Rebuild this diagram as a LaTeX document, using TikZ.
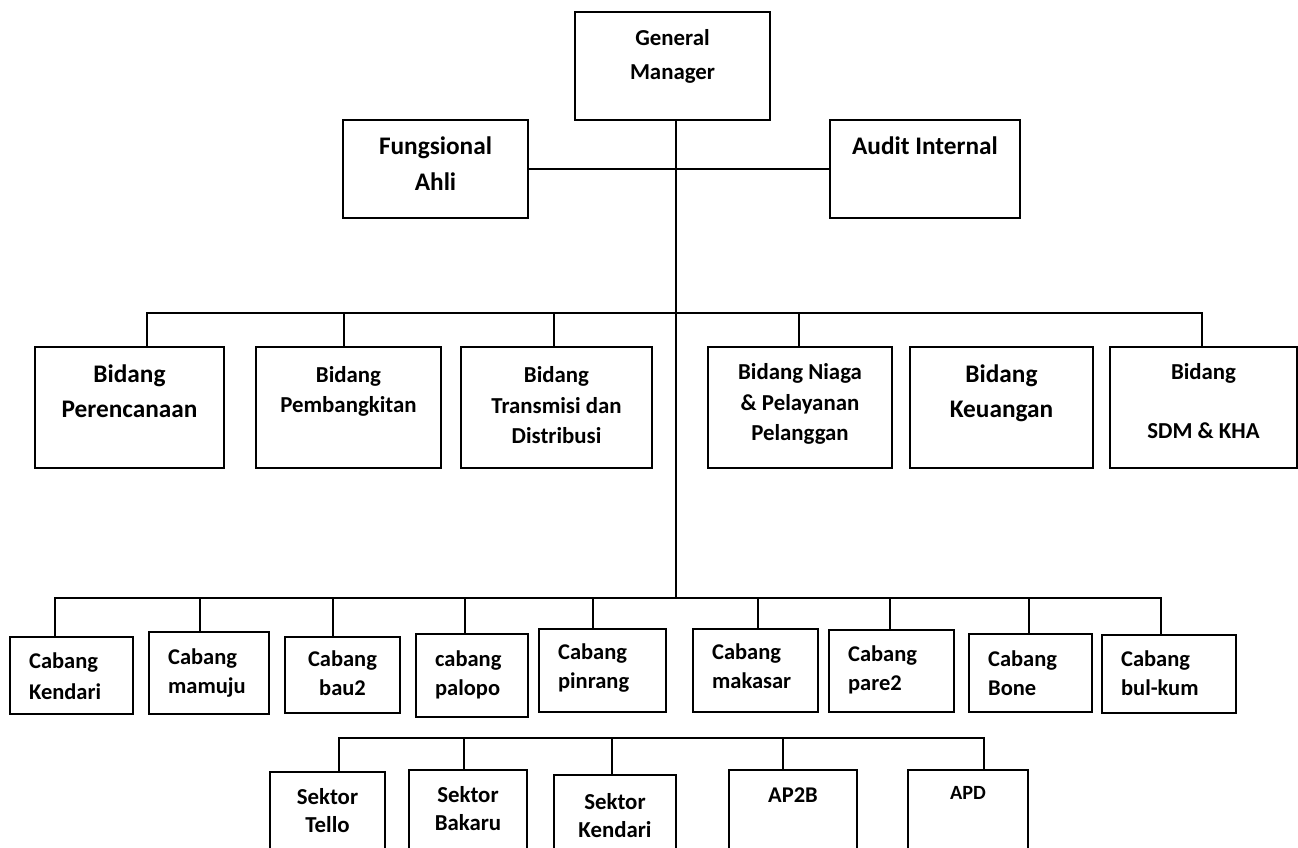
\documentclass[tikz,border=0pt]{standalone}
\usepackage{fontspec}
\setmainfont{Carlito}
\usetikzlibrary{positioning}
\tikzset{
  box/.style 2 args={draw, line width=1.4pt, minimum width=#1*0.02cm, minimum height=#2*0.02cm, inner sep=0pt},
  txt/.style 2 args={font=\bfseries\fontsize{#1}{#2}\selectfont, align=center, inner sep=0pt},
  dn/.style={anchor=north, yshift=-#1*0.02cm},
  dnl/.style={anchor=north west, xshift=20*0.02cm, yshift=-#1*0.02cm, align=left},
  link/.style={line width=1.1pt},
}
\begin{document}
\begin{tikzpicture}[x=0.02cm, y=-0.02cm]
  \clip (0,0) rectangle (1298,848);
  % top level
  \node[box={195}{108}, label={[txt={13}{19.3}, dn=18]north:{General\\Manager}}] (gm) at (672.5,66) {};
  \node[box={185}{98}, label={[txt={14.4}{20.4}, dn=18]north:{Fungsional\\Ahli}}] (fa) at (435.5,169) {};
  \node[box={190}{98}, label={[txt={14.4}{20.4}, dn=18]north:{Audit Internal}}] (ai) at (925,169) {};
  % bidang
  \node[box={189}{121}, label={[txt={14.4}{19.8}, dn=19]north:{Bidang\\Perencanaan}}] (bpr) at (129.5,407.5) {};
  \node[box={185}{121}, label={[txt={13}{17}, dn=20]north:{Bidang\\Pembangkitan}}] (bpe) at (348.5,407.5) {};
  \node[box={191}{121}, label={[txt={13}{17.6}, dn=20]north:{Bidang\\Transmisi dan\\Distribusi}}] (btd) at (556.5,407.5) {};
  \node[box={184}{121}, label={[txt={13}{17.6}, dn=17]north:{Bidang Niaga\\\& Pelayanan\\Pelanggan}}] (bnp) at (800,407.5) {};
  \node[box={183}{121}, label={[txt={14.4}{19.8}, dn=19]north:{Bidang\\Keuangan}}] (bku) at (1001.5,407.5) {};
  \node[box={187}{121}, label={[txt={13}{17.6}, dn=17]north:{Bidang\\[16pt]SDM \& KHA}}] (bsd) at (1203.5,407.5) {};
  % cabang
  \node[box={123}{77}, label={[txt={12.8}{17.5}, dnl=17]north west:{Cabang\\Kendari}}] (ck) at (71.5,675.5) {};
  \node[box={120}{82}, label={[txt={12.8}{16.5}, dnl=18]north west:{Cabang\\mamuju}}] (cm) at (209,673) {};
  \node[box={115}{76}, label={[txt={12.8}{16.5}, dn=15]north:{Cabang\\bau2}}] (cb) at (342.5,675) {};
  \node[box={112}{83}, label={[txt={12.8}{16}, dnl=18]north west:{cabang\\palopo}}] (cp) at (472,675.5) {};
  \node[box={127}{83}, label={[txt={12.8}{16.5}, dnl=16]north west:{Cabang\\pinrang}}] (cpi) at (602.5,670.5) {};
  \node[box={125}{83}, label={[txt={12.8}{16.5}, dnl=16]north west:{Cabang\\makasar}}] (cma) at (755.5,670.5) {};
  \node[box={125}{82}, label={[txt={12.8}{16}, dnl=17]north west:{Cabang\\pare2}}] (cpa) at (891.5,671) {};
  \node[box={123}{78}, label={[txt={12.8}{16}, dnl=18]north west:{Cabang\\Bone}}] (cbo) at (1030.5,673) {};
  \node[box={134}{78}, label={[txt={12.8}{16}, dnl=17]north west:{Cabang\\bul-kum}}] (cbk) at (1169,674) {};
  % sektor
  \node[box={115}{108}, label={[txt={13}{15.9}, dn=17]north:{Sektor\\Tello}}] (st) at (327.5,826) {};
  \node[box={118}{110}, label={[txt={13}{15.9}, dn=17]north:{Sektor\\Bakaru}}] (sb) at (468,825) {};
  \node[box={122}{105}, label={[txt={13}{16.4}, dn=19]north:{Sektor\\Kendari}}] (sk) at (615,827.5) {};
  \node[box={128}{110}, label={[txt={12.8}{15.9}, dn=19]north:{AP2B}}] (sap) at (793,825) {};
  \node[box={120}{110}, label={[txt={11.5}{15.9}, dn=17]north:{APD}}] (sapd) at (968,825) {};
  % junctions
  \coordinate (jB) at (676,313);
  \coordinate (jC) at (676,598);
  \coordinate (jS) at (612,738);
  % lines
  \draw[link] (gm.south -| jC) -- (jC);
  \draw[link] (fa) -- (ai);
  \draw[link] ([xshift=0.35cm]bpr.north) |- (jB) -| ([xshift=-0.03cm]bsd.north);
  \foreach \n/\dx in {bpe/-4.5, btd/-2.5, bnp/-1}
    \draw[link] ([xshift=\dx*0.02cm]\n.north) -- ([xshift=\dx*0.02cm]\n.north |- jB);
  \draw[link] ([xshift=-0.33cm]ck.north) |- (jC) -| ([xshift=-0.16cm]cbk.north);
  \foreach \n/\dx in {cm/-9, cb/-9.5, cp/-7, cpi/-9.5, cma/2.5, cpa/-1.5, cbo/-1.5}
    \draw[link] ([xshift=\dx*0.02cm]\n.north) -- ([xshift=\dx*0.02cm]\n.north |- jC);
  \draw[link] ([xshift=0.23cm]st.north) |- (jS) -| ([xshift=0.32cm]sapd.north);
  \foreach \n/\dx in {sb/-4, sk/-3, sap/-10}
    \draw[link] ([xshift=\dx*0.02cm]\n.north) -- ([xshift=\dx*0.02cm]\n.north |- jS);
\end{tikzpicture}
\end{document}
